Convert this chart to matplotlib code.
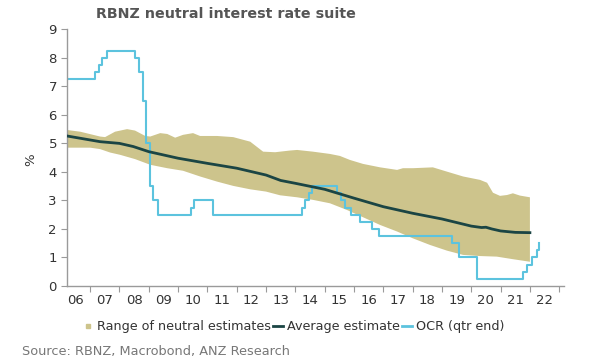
import matplotlib
matplotlib.use("Agg")
import matplotlib.pyplot as plt
import numpy as np
from matplotlib.lines import Line2D

plt.rcParams['font.family'] = ['DejaVu Sans']

# Range of neutral estimates - upper edge
upper_x = [2006.21, 2006.66, 2007.34, 2007.51, 2007.85, 2008.26, 2008.53, 2008.88, 2009.05,
           2009.39, 2009.63, 2009.90, 2010.17, 2010.51, 2010.75, 2011.33, 2011.88, 2012.46,
           2012.90, 2013.31, 2013.82, 2014.06, 2014.60, 2015.18, 2015.52, 2015.86, 2016.31,
           2016.89, 2017.47, 2017.67, 2018.01, 2018.69, 2019.17, 2019.72, 2020.30, 2020.54,
           2020.74, 2020.98, 2021.22, 2021.42, 2021.66, 2022.0]
upper_y = [5.47, 5.41, 5.24, 5.22, 5.41, 5.50, 5.45, 5.26, 5.24,
           5.36, 5.33, 5.20, 5.30, 5.36, 5.26, 5.26, 5.22, 5.06,
           4.71, 4.69, 4.75, 4.77, 4.71, 4.63, 4.56, 4.42, 4.28,
           4.16, 4.07, 4.13, 4.13, 4.16, 4.01, 3.84, 3.72, 3.62,
           3.27, 3.16, 3.19, 3.25, 3.17, 3.11]
# lower edge
lower_x = [2006.21, 2007.0, 2007.34, 2007.68, 2008.02, 2008.53, 2009.05, 2009.63, 2010.17,
           2010.75, 2011.33, 2011.88, 2012.46, 2013.0, 2013.48, 2014.06, 2014.60, 2015.18,
           2015.75, 2016.31, 2016.89, 2017.47, 2018.01, 2018.59, 2019.17, 2019.72, 2020.30,
           2020.87, 2021.42, 2022.0]
lower_y = [4.85, 4.85, 4.80, 4.68, 4.60, 4.45, 4.25, 4.13, 4.04,
           3.84, 3.66, 3.51, 3.39, 3.31, 3.18, 3.11, 3.02, 2.90,
           2.67, 2.41, 2.14, 1.91, 1.67, 1.44, 1.24, 1.09, 1.05,
           1.03, 0.94, 0.85]

# Average estimate
avg_x = [2006.21, 2007.0, 2007.34, 2008.0, 2008.47, 2009.0, 2010.0, 2011.0, 2012.0, 2013.0,
         2013.5, 2014.0, 2015.0, 2016.0, 2017.0, 2018.0, 2019.0, 2020.0, 2020.35, 2020.5,
         2020.7, 2021.0, 2021.5, 2022.0]
avg_y = [5.26, 5.12, 5.06, 5.0, 4.89, 4.71, 4.48, 4.30, 4.13, 3.89,
         3.70, 3.60, 3.39, 3.08, 2.78, 2.55, 2.35, 2.10, 2.05, 2.06,
         2.00, 1.93, 1.88, 1.87]

# OCR (qtr end) - change dates and levels
ocr_x = [2006.21, 2007.17, 2007.31, 2007.42, 2007.57, 2008.53, 2008.67, 2008.79, 2008.92,
         2009.03, 2009.15, 2009.30, 2010.43, 2010.55, 2011.18, 2014.22, 2014.33, 2014.47,
         2014.58, 2015.43, 2015.56, 2015.70, 2015.89, 2016.20, 2016.60, 2016.86, 2019.33,
         2019.59, 2020.20, 2021.75, 2021.89, 2022.06, 2022.23, 2022.32]
ocr_y = [7.25, 7.5, 7.75, 8.0, 8.25, 8.0, 7.5, 6.5, 5.0,
         3.5, 3.0, 2.5, 2.75, 3.0, 2.5, 2.75, 3.0, 3.25,
         3.5, 3.25, 3.0, 2.75, 2.5, 2.25, 2.0, 1.75, 1.5,
         1.0, 0.25, 0.5, 0.75, 1.0, 1.25, 1.5]

years = list(range(2007, 2024))
year_labels = ['06', '07', '08', '09', '10', '11', '12', '13', '14', '15', '16',
               '17', '18', '19', '20', '21', '22']

band_color = '#cdc48c'
avg_color = '#1b4544'
ocr_color = '#5cc3de'
axis_color = '#9a9a9a'
text_color = '#333333'

fig = plt.figure(figsize=(5.98, 3.64), dpi=100)
ax = fig.add_axes([0.1115, 0.2143, 0.8315, 0.7052])

ax.fill(np.concatenate([upper_x, lower_x[::-1]]),
        np.concatenate([upper_y, lower_y[::-1]]),
        color=band_color, lw=0, zorder=1)
ax.plot(avg_x, avg_y, color=avg_color, lw=2.0, zorder=3)
ax.step(ocr_x, ocr_y, where='post', color=ocr_color, lw=1.5, zorder=2)

ax.set_xlim(2006.2, 2023.16)
ax.set_ylim(0, 9)
ax.set_yticks(range(0, 10))
ax.set_xticks(years)
ax.set_xticklabels([])
ax.set_xticks([y - 0.5 for y in years], minor=True)
ax.set_xticklabels(year_labels, minor=True)
ax.tick_params(axis='x', which='minor', length=0, pad=6, labelsize=9.5, labelcolor=text_color)
ax.tick_params(axis='x', which='major', length=4, color=axis_color, direction='out')
ax.tick_params(axis='y', length=4, color=axis_color, labelsize=9.5, labelcolor=text_color, pad=3)

for s in ['top', 'right']:
    ax.spines[s].set_visible(False)
for s in ['left', 'bottom']:
    ax.spines[s].set_color(axis_color)
    ax.spines[s].set_linewidth(1.0)

fig.text(0.052, 0.56, '%', rotation=90, fontsize=9.5, color=text_color, ha='center', va='center')

fig.text(0.1605, 0.962, 'RBNZ neutral interest rate suite', fontsize=10.3, fontweight='bold',
         color='#555555', ha='left', va='center')

handles = [
    Line2D([], [], marker='s', markersize=3.5, color=band_color, lw=0),
    Line2D([], [], color=avg_color, lw=2),
    Line2D([], [], color=ocr_color, lw=2),
]
labels = ['Range of neutral estimates', 'Average estimate', 'OCR (qtr end)']
fig.legend(handles, labels, loc='center', bbox_to_anchor=(0.491, 0.1025), ncol=3,
           frameon=False, fontsize=9.2, handlelength=0.8, handletextpad=0.3,
           columnspacing=0.15, labelcolor=text_color)

fig.text(0.037, 0.033, 'Source: RBNZ, Macrobond, ANZ Research', fontsize=9.3,
         color='#777777', ha='left', va='center')

fig.savefig('out.png', dpi=100)
